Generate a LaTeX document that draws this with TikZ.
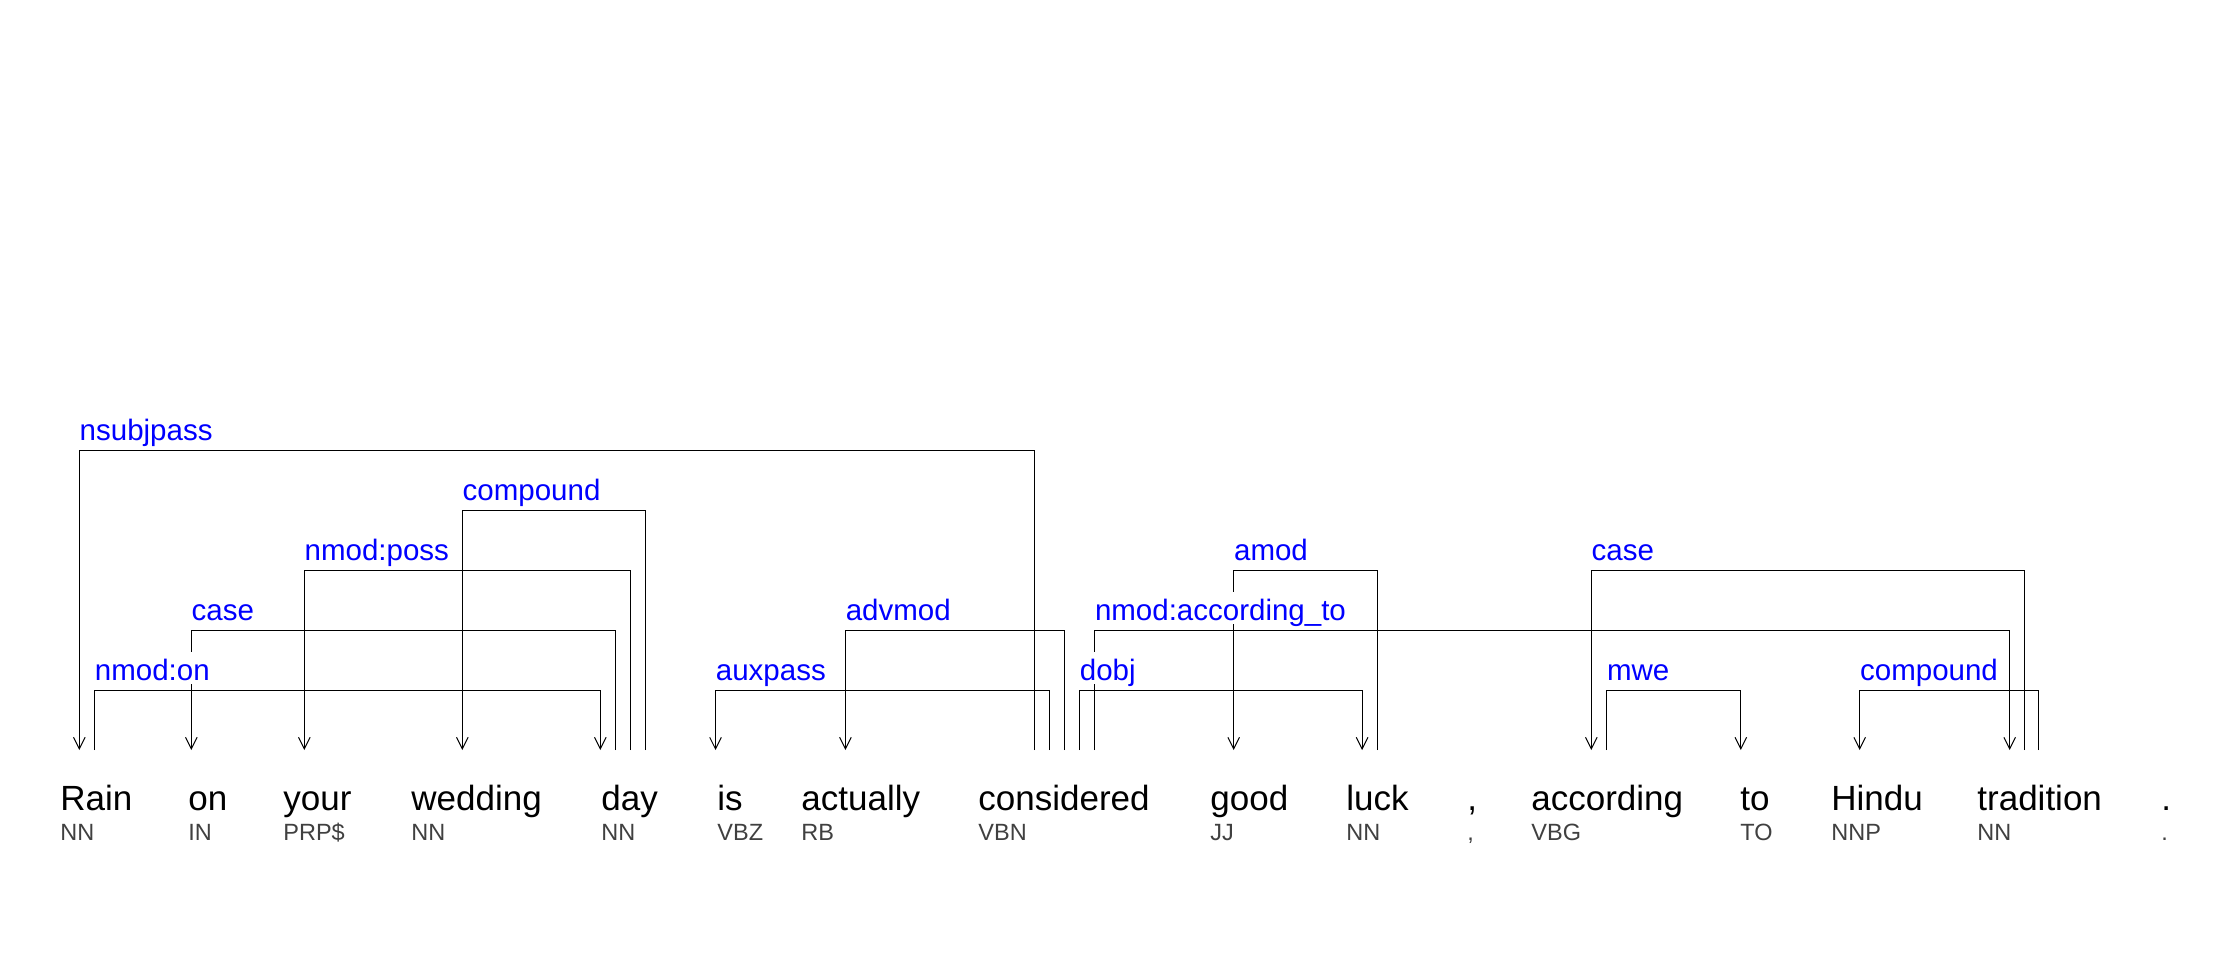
\documentclass[tikz,border=0pt]{standalone}
\usepackage{fontspec}
\setmainfont{Liberation Sans}
\usepackage{xcolor}
\usepackage{tikz}
\usetikzlibrary{arrows.meta, calc}
\definecolor{depblue}{RGB}{0,0,255}
\definecolor{taggray}{RGB}{64,64,64}

\begin{document}
\begin{tikzpicture}[x=0.5pt, y=-0.5pt]
\tikzstyle{word} = [anchor=base west, inner sep=0pt, font=\fontsize{17.5pt}{20pt}\selectfont]
\tikzstyle{tag} = [anchor=base west, inner sep=0pt, text=taggray, font=\fontsize{11.75pt}{14pt}\selectfont]
\tikzstyle{lab} = [anchor=base west, inner xsep=0pt, inner ysep=2pt, text height=12pt, text depth=0pt, fill=white, text=depblue, font=\fontsize{14.75pt}{17pt}\selectfont]
\tikzstyle{line} = [draw, line width=0.5pt, -{Straight Barb[length=5.8pt, width=5.8pt]}]
\tikzset{deparc/.style={to path={-- ++(0,-#1) -| (\tikztotarget)}}}

\useasboundingbox (0,0) rectangle (2225,960);

% words and tags
\node [word] (rain) at (60,810) {Rain};
\node [word] (on) at (188,810) {on};
\node [word] (your) at (283,810) {your};
\node [word] (wedding) at (411,810) {wedding};
\node [word] (day) at (601,810) {day};
\node [word] (is) at (717,810) {is};
\node [word] (actually) at (801,810) {actually};
\node [word] (considered) at (978,810) {considered};
\node [word] (good) at (1210,810) {good};
\node [word] (luck) at (1346,810) {luck};
\node [word] (comma) at (1467,810) {,};
\node [word] (according) at (1531,810) {according};
\node [word] (tow) at (1740,810) {to};
\node [word] (hindu) at (1831,810) {Hindu};
\node [word] (tradition) at (1977,810) {tradition};
\node [word] (period) at (2161,810) {.};

\node [tag] (rain-t) at (60,840) {NN};
\node [tag] (on-t) at (188,840) {IN};
\node [tag] (your-t) at (283,840) {PRP\$};
\node [tag] (wedding-t) at (411,840) {NN};
\node [tag] (day-t) at (601,840) {NN};
\node [tag] (is-t) at (717,840) {VBZ};
\node [tag] (actually-t) at (801,840) {RB};
\node [tag] (considered-t) at (978,840) {VBN};
\node [tag] (good-t) at (1210,840) {JJ};
\node [tag] (luck-t) at (1346,840) {NN};
\node [tag] (comma-t) at (1467,840) {,};
\node [tag] (according-t) at (1531,840) {VBG};
\node [tag] (tow-t) at (1740,840) {TO};
\node [tag] (hindu-t) at (1831,840) {NNP};
\node [tag] (tradition-t) at (1977,840) {NN};
\node [tag] (period-t) at (2161,840) {.};

% ports
\coordinate (rain-in) at (79.3,750);
\coordinate (rain-o1) at (94.5,750);
\coordinate (on-in) at (191.3,750);
\coordinate (your-in) at (304.3,750);
\coordinate (wedding-in) at (462.3,750);
\coordinate (day-in) at (600.3,750);
\coordinate (day-o1) at (615.4,750);
\coordinate (day-o2) at (630.2,750);
\coordinate (day-o3) at (645,750);
\coordinate (is-in) at (715.5,750);
\coordinate (actually-in) at (845.4,750);
\coordinate (considered-o1) at (1034.5,750);
\coordinate (considered-o2) at (1049,750);
\coordinate (considered-o3) at (1064,750);
\coordinate (considered-o4) at (1079.5,750);
\coordinate (considered-o5) at (1094.6,750);
\coordinate (good-in) at (1233.7,750);
\coordinate (luck-in) at (1362.1,750);
\coordinate (luck-o1) at (1377.2,750);
\coordinate (according-in) at (1591.3,750);
\coordinate (according-o1) at (1606.6,750);
\coordinate (tow-in) at (1740.8,750);
\coordinate (hindu-in) at (1859.7,750);
\coordinate (tradition-in) at (2009.7,750);
\coordinate (tradition-o1) at (2024,750);
\coordinate (tradition-o2) at (2038.8,750);

% dependencies
\draw [line] (considered-o1) to[deparc=300] (rain-in);
\draw [line] (day-o3) to[deparc=240] (wedding-in);
\draw [line] (day-o2) to[deparc=180] (your-in);
\draw [line] (day-o1) to[deparc=120] (on-in);
\draw [line] (rain-o1) to[deparc=60] (day-in);
\draw [line] (considered-o2) to[deparc=60] (is-in);
\draw [line] (considered-o3) to[deparc=120] (actually-in);
\draw [line] (considered-o4) to[deparc=60] (luck-in);
\draw [line] (considered-o5) to[deparc=120] (tradition-in);
\draw [line] (luck-o1) to[deparc=180] (good-in);
\draw [line] (tradition-o1) to[deparc=180] (according-in);
\draw [line] (according-o1) to[deparc=60] (tow-in);
\draw [line] (tradition-o2) to[deparc=60] (hindu-in);

% labels
\node [lab] (l-nsubjpass) at ($(rain-in)+(0,-310)$) {nsubjpass};
\node [lab] (l-compound1) at ($(wedding-in)+(0,-250)$) {compound};
\node [lab] (l-nmodposs) at ($(your-in)+(0,-190)$) {nmod:poss};
\node [lab] (l-case1) at ($(on-in)+(0,-130)$) {case};
\node [lab] (l-nmodon) at ($(rain-o1)+(0,-70)$) {nmod:on};
\node [lab] (l-auxpass) at ($(is-in)+(0,-70)$) {auxpass};
\node [lab] (l-advmod) at ($(actually-in)+(0,-130)$) {advmod};
\node [lab] (l-dobj) at ($(considered-o4)+(0,-70)$) {dobj};
\node [lab] (l-nmodacc) at ($(considered-o5)+(0,-130)$) {nmod:according\_to};
\node [lab] (l-amod) at ($(good-in)+(0,-190)$) {amod};
\node [lab] (l-case2) at ($(according-in)+(0,-190)$) {case};
\node [lab] (l-mwe) at ($(according-o1)+(0,-70)$) {mwe};
\node [lab] (l-compound2) at ($(hindu-in)+(0,-70)$) {compound};
\end{tikzpicture}
\end{document}
